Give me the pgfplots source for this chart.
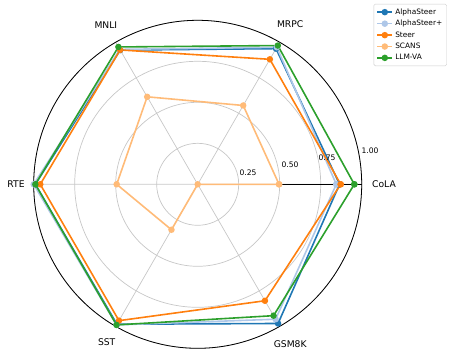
\documentclass[border=0pt]{standalone}
\usepackage{fontspec}
\setmainfont{DejaVu Sans}
\usepackage{pgfplots}
\pgfplotsset{compat=1.18}
\usepgfplotslibrary{polar}
\definecolor{cA}{HTML}{1F77B4}
\definecolor{cB}{HTML}{AEC7E8}
\definecolor{cC}{HTML}{FF7F0E}
\definecolor{cD}{HTML}{FFBB78}
\definecolor{cE}{HTML}{2CA02C}
\begin{document}
\begin{tikzpicture}
\path[use as bounding box] (0,0) rectangle (449pt,356pt);
\begin{polaraxis}[
  at={(197.7pt,171.7pt)}, anchor=center,
  scale only axis, width=328pt, height=328pt,
  xmin=0, xmax=360, ymin=0, ymax=1,
  xtick={0,60,120,180,240,300}, xticklabels={},
  ytick={0.25,0.5,0.75,1}, yticklabels={},
  major tick length=0pt,
  grid=major,
  major grid style={draw=black!22, line width=0.7pt},
  axis line style={black, line width=0.8pt},
  clip=false,
  every axis plot/.append style={line width=1.6pt, mark=*, mark size=2.4pt, mark options={solid}},
  legend style={at={(1.26,1.05)}, anchor=north east, font=\fontsize{7.4}{9}\selectfont,
    draw=black!20, rounded corners=1.5pt, inner xsep=2.5pt, inner ysep=2.5pt, row sep=0.4pt,
    cells={anchor=west}},
  legend image code/.code={\draw[mark repeat=2,mark phase=2] plot coordinates {(0cm,0cm) (0.27cm,0cm) (0.54cm,0cm)};},
]
\addplot[color=cA] coordinates {(0,0.865) (60,0.955) (120,0.945) (180,0.99) (240,0.985) (300,0.98) (360,0.865)};
\addlegendentry{AlphaSteer}
\addplot[color=cB] coordinates {(0,0.845) (60,0.965) (120,0.95) (180,1.0) (240,0.99) (300,0.95) (360,0.845)};
\addlegendentry{AlphaSteer+}
\addplot[color=cC] coordinates {(0,0.872) (60,0.88) (120,0.946) (180,0.96) (240,0.96) (300,0.82) (360,0.872)};
\addlegendentry{Steer}
\addplot[color=cD] coordinates {(0,0.496) (60,0.555) (120,0.616) (180,0.494) (240,0.32) (300,0.0) (360,0.496)};
\addlegendentry{SCANS}
\addplot[color=cE] coordinates {(0,0.955) (60,0.977) (120,0.967) (180,0.99) (240,0.99) (300,0.925) (360,0.955)};
\addlegendentry{LLM-VA}
\begin{scope}[font=\fontsize{9.2}{11}\selectfont]
\node at (axis cs:0,1.136) {CoLA};
\node at (axis cs:60,1.128) {MRPC};
\node at (axis cs:120,1.12) {MNLI};
\node at (axis cs:180,1.108) {RTE};
\node at (axis cs:240,1.11) {SST};
\node at (axis cs:300,1.128) {GSM8K};
\end{scope}
\begin{scope}[font=\fontsize{7.6}{9}\selectfont]
\node at (axis cs:12.7,0.315) {0.25};
\node at (axis cs:11.8,0.575) {0.50};
\node at (axis cs:11.5,0.805) {0.75};
\node at (axis cs:10.9,1.07) {1.00};
\end{scope}
\end{polaraxis}
\end{tikzpicture}
\end{document}
